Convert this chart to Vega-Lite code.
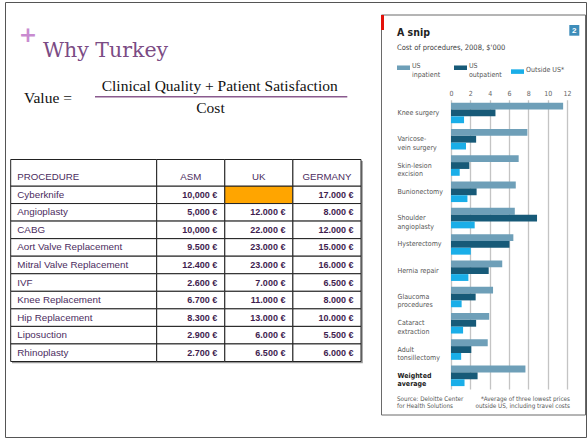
{
  "$schema": "https://vega.github.io/schema/vega-lite/v6.json",
  "width": 581,
  "height": 435,
  "padding": {"left": 5, "top": 2, "right": 2, "bottom": 3},
  "autosize": {"type": "none"},
  "background": "#ffffff",
  "config": {"view": {"stroke": "#555555", "strokeWidth": 1}},
  "datasets": {
    "table": [
      {"procedure": "Cyberknife", "ASM": "10,000 €", "UK": "", "GERMANY": "17.000 €"},
      {"procedure": "Angioplasty", "ASM": "5,000 €", "UK": "12.000 €", "GERMANY": "8.000 €"},
      {"procedure": "CABG", "ASM": "10,000 €", "UK": "22.000 €", "GERMANY": "12.000 €"},
      {"procedure": "Aort Valve Replacement", "ASM": "9.500 €", "UK": "23.000 €", "GERMANY": "15.000 €"},
      {"procedure": "Mitral Valve Replacement", "ASM": "12.400 €", "UK": "23.000 €", "GERMANY": "16.000 €"},
      {"procedure": "IVF", "ASM": "2.600 €", "UK": "7.000 €", "GERMANY": "6.500 €"},
      {"procedure": "Knee Replacement", "ASM": "6.700 €", "UK": "11.000 €", "GERMANY": "8.000 €"},
      {"procedure": "Hip Replacement", "ASM": "8.300 €", "UK": "13.000 €", "GERMANY": "10.000 €"},
      {"procedure": "Liposuction", "ASM": "2.900 €", "UK": "6.000 €", "GERMANY": "5.500 €"},
      {"procedure": "Rhinoplasty", "ASM": "2.700 €", "UK": "6.500 €", "GERMANY": "6.000 €"}
    ],
    "snip": [
      {"procedure": "Knee surgery", "type": "US inpatient", "cost": 11.6},
      {"procedure": "Knee surgery", "type": "US outpatient", "cost": 4.6},
      {"procedure": "Knee surgery", "type": "Outside US*", "cost": 1.35},
      {"procedure": "Varicose-|vein surgery", "type": "US inpatient", "cost": 7.9},
      {"procedure": "Varicose-|vein surgery", "type": "US outpatient", "cost": 2.6},
      {"procedure": "Varicose-|vein surgery", "type": "Outside US*", "cost": 1.55},
      {"procedure": "Skin-lesion|excision", "type": "US inpatient", "cost": 7.0},
      {"procedure": "Skin-lesion|excision", "type": "US outpatient", "cost": 1.9},
      {"procedure": "Skin-lesion|excision", "type": "Outside US*", "cost": 0.9},
      {"procedure": "Bunionectomy", "type": "US inpatient", "cost": 6.7},
      {"procedure": "Bunionectomy", "type": "US outpatient", "cost": 2.65},
      {"procedure": "Bunionectomy", "type": "Outside US*", "cost": 1.7},
      {"procedure": "Shoulder|angioplasty", "type": "US inpatient", "cost": 6.6},
      {"procedure": "Shoulder|angioplasty", "type": "US outpatient", "cost": 8.9},
      {"procedure": "Shoulder|angioplasty", "type": "Outside US*", "cost": 2.45},
      {"procedure": "Hysterectomy", "type": "US inpatient", "cost": 6.45},
      {"procedure": "Hysterectomy", "type": "US outpatient", "cost": 6.05},
      {"procedure": "Hysterectomy", "type": "Outside US*", "cost": 2.05},
      {"procedure": "Hernia repair", "type": "US inpatient", "cost": 5.3},
      {"procedure": "Hernia repair", "type": "US outpatient", "cost": 3.9},
      {"procedure": "Hernia repair", "type": "Outside US*", "cost": 1.8},
      {"procedure": "Glaucoma|procedures", "type": "US inpatient", "cost": 4.35},
      {"procedure": "Glaucoma|procedures", "type": "US outpatient", "cost": 2.55},
      {"procedure": "Glaucoma|procedures", "type": "Outside US*", "cost": 1.1},
      {"procedure": "Cataract|extraction", "type": "US inpatient", "cost": 3.95},
      {"procedure": "Cataract|extraction", "type": "US outpatient", "cost": 2.6},
      {"procedure": "Cataract|extraction", "type": "Outside US*", "cost": 1.25},
      {"procedure": "Adult|tonsillectomy", "type": "US inpatient", "cost": 3.8},
      {"procedure": "Adult|tonsillectomy", "type": "US outpatient", "cost": 2.1},
      {"procedure": "Adult|tonsillectomy", "type": "Outside US*", "cost": 1.05},
      {"procedure": "Weighted|average", "type": "US inpatient", "cost": 7.7},
      {"procedure": "Weighted|average", "type": "US outpatient", "cost": 2.75},
      {"procedure": "Weighted|average", "type": "Outside US*", "cost": 1.4}
    ]
  },
  "resolve": {"scale": {"x": "independent", "y": "independent", "color": "independent", "yOffset": "independent"}},
  "layer": [
    {
      "data": {"values": [{"part": "table shadow"}]},
      "mark": {"type": "rect", "color": "#9a9a9a"},
      "encoding": {
        "x": {"datum": 12, "type": "quantitative", "scale": {"domain": [0, 588], "range": [-5, 583], "nice": false, "zero": false}, "axis": null},
        "x2": {"datum": 362.8},
        "y": {"datum": 161, "type": "quantitative", "scale": {"domain": [0, 440], "range": [-2, 438], "nice": false, "zero": false}, "axis": null},
        "y2": {"datum": 363.3}
      }
    },
    {
      "data": {"name": "table"},
      "mark": {"type": "rect", "fill": "#ffffff", "stroke": "#222222", "strokeWidth": 1},
      "encoding": {
        "x": {"datum": "PROCEDURE", "type": "nominal", "scale": {"type": "band", "domain": ["PROCEDURE"], "range": [5.7, 151.7], "paddingInner": 0, "paddingOuter": 0}, "axis": null},
        "y": {"field": "procedure", "type": "nominal", "scale": {"type": "band", "domain": ["Cyberknife", "Angioplasty", "CABG", "Aort Valve Replacement", "Mitral Valve Replacement", "IVF", "Knee Replacement", "Hip Replacement", "Liposuction", "Rhinoplasty"], "range": [184, 359.5], "paddingInner": 0, "paddingOuter": 0}, "axis": null}
      }
    },
    {
      "data": {"name": "table"},
      "mark": {"type": "text", "align": "left", "baseline": "middle", "dx": 6.6, "font": "Liberation Sans, Arial, sans-serif", "fontSize": 9.8, "color": "#4b2c5e"},
      "encoding": {
        "x": {"datum": "PROCEDURE", "type": "nominal", "bandPosition": 0, "scale": {"type": "band", "domain": ["PROCEDURE"], "range": [5.7, 151.7], "paddingInner": 0, "paddingOuter": 0}, "axis": null},
        "y": {"field": "procedure", "type": "nominal", "scale": {"type": "band", "domain": ["Cyberknife", "Angioplasty", "CABG", "Aort Valve Replacement", "Mitral Valve Replacement", "IVF", "Knee Replacement", "Hip Replacement", "Liposuction", "Rhinoplasty"], "range": [184, 359.5], "paddingInner": 0, "paddingOuter": 0}, "axis": null},
        "text": {"field": "procedure"}
      }
    },
    {
      "data": {"name": "table"},
      "transform": [{"fold": ["ASM", "UK", "GERMANY"], "as": ["column", "value"]}],
      "mark": {"type": "rect", "stroke": "#222222", "strokeWidth": 1},
      "encoding": {
        "x": {"field": "column", "type": "nominal", "scale": {"type": "band", "domain": ["ASM", "UK", "GERMANY"], "range": [151.7, 356], "paddingInner": 0, "paddingOuter": 0}, "axis": null},
        "y": {"field": "procedure", "type": "nominal", "scale": {"type": "band", "domain": ["Cyberknife", "Angioplasty", "CABG", "Aort Valve Replacement", "Mitral Valve Replacement", "IVF", "Knee Replacement", "Hip Replacement", "Liposuction", "Rhinoplasty"], "range": [184, 359.5], "paddingInner": 0, "paddingOuter": 0}, "axis": null},
        "fill": {"condition": {"test": "datum.value === ''", "value": "#ffa500"}, "value": "#ffffff"}
      }
    },
    {
      "data": {"name": "table"},
      "transform": [{"fold": ["ASM", "UK", "GERMANY"], "as": ["column", "value"]}],
      "mark": {"type": "text", "align": "right", "baseline": "middle", "dx": -7.5, "font": "Liberation Sans, Arial, sans-serif", "fontSize": 9, "fontWeight": "bold", "color": "#3f1d4f"},
      "encoding": {
        "x": {"field": "column", "type": "nominal", "bandPosition": 1, "scale": {"type": "band", "domain": ["ASM", "UK", "GERMANY"], "range": [151.7, 356], "paddingInner": 0, "paddingOuter": 0}, "axis": null},
        "y": {"field": "procedure", "type": "nominal", "scale": {"type": "band", "domain": ["Cyberknife", "Angioplasty", "CABG", "Aort Valve Replacement", "Mitral Valve Replacement", "IVF", "Knee Replacement", "Hip Replacement", "Liposuction", "Rhinoplasty"], "range": [184, 359.5], "paddingInner": 0, "paddingOuter": 0}, "axis": null},
        "text": {"field": "value"}
      }
    },
    {
      "data": {"values": [{"column": "PROCEDURE"}]},
      "mark": {"type": "rect", "fill": "#ffffff", "stroke": "#222222", "strokeWidth": 1},
      "encoding": {
        "x": {"field": "column", "type": "nominal", "scale": {"type": "band", "domain": ["PROCEDURE"], "range": [5.7, 151.7], "paddingInner": 0, "paddingOuter": 0}, "axis": null},
        "y": {"datum": "header", "type": "nominal", "scale": {"type": "band", "domain": ["header"], "range": [157.5, 184], "paddingInner": 0, "paddingOuter": 0}, "axis": null}
      }
    },
    {
      "data": {"values": [{"column": "PROCEDURE"}]},
      "mark": {"type": "text", "align": "left", "baseline": "middle", "dx": 6.6, "dy": 3.8, "font": "Liberation Sans, Arial, sans-serif", "fontSize": 9.7, "color": "#4b2c5e"},
      "encoding": {
        "x": {"field": "column", "type": "nominal", "bandPosition": 0, "scale": {"type": "band", "domain": ["PROCEDURE"], "range": [5.7, 151.7], "paddingInner": 0, "paddingOuter": 0}, "axis": null},
        "y": {"datum": "header", "type": "nominal", "scale": {"type": "band", "domain": ["header"], "range": [157.5, 184], "paddingInner": 0, "paddingOuter": 0}, "axis": null},
        "text": {"field": "column"}
      }
    },
    {
      "data": {"values": [{"column": "ASM"}, {"column": "UK"}, {"column": "GERMANY"}]},
      "mark": {"type": "rect", "fill": "#ffffff", "stroke": "#222222", "strokeWidth": 1},
      "encoding": {
        "x": {"field": "column", "type": "nominal", "scale": {"type": "band", "domain": ["ASM", "UK", "GERMANY"], "range": [151.7, 356], "paddingInner": 0, "paddingOuter": 0}, "axis": null},
        "y": {"datum": "header", "type": "nominal", "scale": {"type": "band", "domain": ["header"], "range": [157.5, 184], "paddingInner": 0, "paddingOuter": 0}, "axis": null}
      }
    },
    {
      "data": {"values": [{"column": "ASM"}, {"column": "UK"}, {"column": "GERMANY"}]},
      "mark": {"type": "text", "align": "center", "baseline": "middle", "dy": 3.8, "font": "Liberation Sans, Arial, sans-serif", "fontSize": 9.7, "color": "#4b2c5e"},
      "encoding": {
        "x": {"field": "column", "type": "nominal", "scale": {"type": "band", "domain": ["ASM", "UK", "GERMANY"], "range": [151.7, 356], "paddingInner": 0, "paddingOuter": 0}, "axis": null},
        "y": {"datum": "header", "type": "nominal", "scale": {"type": "band", "domain": ["header"], "range": [157.5, 184], "paddingInner": 0, "paddingOuter": 0}, "axis": null},
        "text": {"field": "column"}
      }
    },
    {
      "data": {"values": [{"t": "+"}]},
      "mark": {"type": "text", "align": "center", "baseline": "alphabetic", "font": "DejaVu Sans", "fontWeight": "bold", "fontSize": 22, "color": "#c98bd0"},
      "encoding": {
        "x": {"datum": 28, "type": "quantitative", "scale": {"domain": [0, 588], "range": [-5, 583], "nice": false, "zero": false}, "axis": null},
        "y": {"datum": 42, "type": "quantitative", "scale": {"domain": [0, 440], "range": [-2, 438], "nice": false, "zero": false}, "axis": null},
        "text": {"field": "t"}
      }
    },
    {
      "data": {"values": [{"t": "Why Turkey"}]},
      "mark": {"type": "text", "align": "left", "baseline": "alphabetic", "font": "DejaVu Serif", "fontSize": 20.5, "color": "#7b4b84"},
      "encoding": {
        "x": {"datum": 43, "type": "quantitative", "scale": {"domain": [0, 588], "range": [-5, 583], "nice": false, "zero": false}, "axis": null},
        "y": {"datum": 56.7, "type": "quantitative", "scale": {"domain": [0, 440], "range": [-2, 438], "nice": false, "zero": false}, "axis": null},
        "text": {"field": "t"}
      }
    },
    {
      "data": {"values": [{"t": "Value ="}]},
      "mark": {"type": "text", "align": "left", "baseline": "alphabetic", "font": "Liberation Serif, Times New Roman, serif", "fontSize": 15.5, "color": "#111111"},
      "encoding": {
        "x": {"datum": 24, "type": "quantitative", "scale": {"domain": [0, 588], "range": [-5, 583], "nice": false, "zero": false}, "axis": null},
        "y": {"datum": 102.7, "type": "quantitative", "scale": {"domain": [0, 440], "range": [-2, 438], "nice": false, "zero": false}, "axis": null},
        "text": {"field": "t"}
      }
    },
    {
      "data": {"values": [{"t": "Clinical Quality + Patient Satisfaction"}]},
      "mark": {"type": "text", "align": "center", "baseline": "alphabetic", "font": "Liberation Serif, Times New Roman, serif", "fontSize": 15.5, "color": "#111111"},
      "encoding": {
        "x": {"datum": 219.7, "type": "quantitative", "scale": {"domain": [0, 588], "range": [-5, 583], "nice": false, "zero": false}, "axis": null},
        "y": {"datum": 90.7, "type": "quantitative", "scale": {"domain": [0, 440], "range": [-2, 438], "nice": false, "zero": false}, "axis": null},
        "text": {"field": "t"}
      }
    },
    {
      "data": {"values": [{"part": "fraction bar"}]},
      "mark": {"type": "rule", "color": "#8a5a8e", "strokeWidth": 1.6},
      "encoding": {
        "x": {"datum": 95, "type": "quantitative", "scale": {"domain": [0, 588], "range": [-5, 583], "nice": false, "zero": false}, "axis": null},
        "x2": {"datum": 347.3},
        "y": {"datum": 96.7, "type": "quantitative", "scale": {"domain": [0, 440], "range": [-2, 438], "nice": false, "zero": false}, "axis": null}
      }
    },
    {
      "data": {"values": [{"t": "Cost"}]},
      "mark": {"type": "text", "align": "center", "baseline": "alphabetic", "font": "Liberation Serif, Times New Roman, serif", "fontSize": 15.5, "color": "#111111"},
      "encoding": {
        "x": {"datum": 210.5, "type": "quantitative", "scale": {"domain": [0, 588], "range": [-5, 583], "nice": false, "zero": false}, "axis": null},
        "y": {"datum": 112.7, "type": "quantitative", "scale": {"domain": [0, 440], "range": [-2, 438], "nice": false, "zero": false}, "axis": null},
        "text": {"field": "t"}
      }
    },
    {
      "data": {"values": [{"part": "inset frame"}]},
      "mark": {"type": "rect", "filled": false, "color": "#6a6a6a", "strokeWidth": 1},
      "encoding": {
        "x": {"datum": 381.5, "type": "quantitative", "scale": {"domain": [0, 588], "range": [-5, 583], "nice": false, "zero": false}, "axis": null},
        "x2": {"datum": 585.5},
        "y": {"datum": 15, "type": "quantitative", "scale": {"domain": [0, 440], "range": [-2, 438], "nice": false, "zero": false}, "axis": null},
        "y2": {"datum": 415}
      }
    },
    {
      "data": {"values": [{"part": "red tab"}]},
      "mark": {"type": "rect", "color": "#e3120b"},
      "encoding": {
        "x": {"datum": 381, "type": "quantitative", "scale": {"domain": [0, 588], "range": [-5, 583], "nice": false, "zero": false}, "axis": null},
        "x2": {"datum": 384},
        "y": {"datum": 15, "type": "quantitative", "scale": {"domain": [0, 440], "range": [-2, 438], "nice": false, "zero": false}, "axis": null},
        "y2": {"datum": 30}
      }
    },
    {
      "data": {"values": [{"part": "chart number box"}]},
      "mark": {"type": "rect", "color": "#3e8dba"},
      "encoding": {
        "x": {"datum": 569.3, "type": "quantitative", "scale": {"domain": [0, 588], "range": [-5, 583], "nice": false, "zero": false}, "axis": null},
        "x2": {"datum": 579.3},
        "y": {"datum": 25, "type": "quantitative", "scale": {"domain": [0, 440], "range": [-2, 438], "nice": false, "zero": false}, "axis": null},
        "y2": {"datum": 35.7}
      }
    },
    {
      "data": {"values": [{"t": "2"}]},
      "mark": {"type": "text", "align": "center", "baseline": "alphabetic", "font": "Liberation Sans, Arial, sans-serif", "fontWeight": "bold", "fontSize": 8, "color": "#ffffff"},
      "encoding": {
        "x": {"datum": 574.3, "type": "quantitative", "scale": {"domain": [0, 588], "range": [-5, 583], "nice": false, "zero": false}, "axis": null},
        "y": {"datum": 33.3, "type": "quantitative", "scale": {"domain": [0, 440], "range": [-2, 438], "nice": false, "zero": false}, "axis": null},
        "text": {"field": "t"}
      }
    },
    {
      "data": {"values": [{"t": "A snip"}]},
      "mark": {"type": "text", "align": "left", "baseline": "alphabetic", "font": "DejaVu Sans Condensed, Liberation Sans Narrow, DejaVu Sans, sans-serif", "fontWeight": "bold", "fontSize": 10.5, "color": "#222222"},
      "encoding": {
        "x": {"datum": 397, "type": "quantitative", "scale": {"domain": [0, 588], "range": [-5, 583], "nice": false, "zero": false}, "axis": null},
        "y": {"datum": 35.5, "type": "quantitative", "scale": {"domain": [0, 440], "range": [-2, 438], "nice": false, "zero": false}, "axis": null},
        "text": {"field": "t"}
      }
    },
    {
      "data": {"values": [{"t": "Cost of procedures, 2008, $'000"}]},
      "mark": {"type": "text", "align": "left", "baseline": "alphabetic", "font": "DejaVu Sans Condensed, Liberation Sans Narrow, DejaVu Sans, sans-serif", "fontSize": 7.5, "color": "#444444"},
      "encoding": {
        "x": {"datum": 397, "type": "quantitative", "scale": {"domain": [0, 588], "range": [-5, 583], "nice": false, "zero": false}, "axis": null},
        "y": {"datum": 50, "type": "quantitative", "scale": {"domain": [0, 440], "range": [-2, 438], "nice": false, "zero": false}, "axis": null},
        "text": {"field": "t"}
      }
    },
    {
      "data": {"name": "snip"},
      "mark": {"type": "bar"},
      "encoding": {
        "y": {
          "field": "procedure", "type": "nominal", "sort": null,
          "scale": {"type": "band", "domain": ["Knee surgery", "Varicose-|vein surgery", "Skin-lesion|excision", "Bunionectomy", "Shoulder|angioplasty", "Hysterectomy", "Hernia repair", "Glaucoma|procedures", "Cataract|extraction", "Adult|tonsillectomy", "Weighted|average"], "range": [97.8, 387], "paddingInner": 0.22, "paddingOuter": 0.11},
          "axis": {
            "orient": "left", "offset": -392, "ticks": false, "domain": false, "grid": false, "title": null,
            "labelAlign": "left", "labelBaseline": "middle", "labelPadding": 0, "labelLimit": 0, "labelOverlap": false,
            "labelExpr": "split(datum.label, '|')", "labelLineHeight": 8.5,
            "labelFont": "DejaVu Sans Condensed, Liberation Sans Narrow, DejaVu Sans, sans-serif", "labelFontSize": 7,
            "labelColor": {"condition": {"test": "datum.value === 'Weighted|average'", "value": "#222222"}, "value": "#555555"},
            "labelFontWeight": {"condition": {"test": "datum.value === 'Weighted|average'", "value": "bold"}, "value": "normal"}
          }
        },
        "yOffset": {"field": "type", "type": "nominal", "sort": ["US inpatient", "US outpatient", "Outside US*"], "scale": {"paddingInner": 0, "paddingOuter": 0}},
        "x": {
          "field": "cost", "type": "quantitative",
          "scale": {"domain": [0, 12], "range": [446, 562], "nice": false, "zero": true},
          "axis": {
            "orient": "top", "offset": -96, "values": [0, 2, 4, 6, 8, 10, 12], "ticks": false, "domain": false, "grid": true,
            "gridColor": "#c4c4c4", "gridWidth": 1.3, "title": null, "labelPadding": 2, "labelFlush": false, "labelOverlap": false,
            "labelFont": "DejaVu Sans Condensed, Liberation Sans Narrow, DejaVu Sans, sans-serif", "labelFontSize": 7, "labelColor": "#666666"
          }
        },
        "color": {
          "field": "type", "type": "nominal",
          "scale": {"domain": ["US inpatient", "US outpatient", "Outside US*"], "range": ["#6e9fb8", "#175a78", "#1aaee8"]},
          "legend": {
            "title": null, "orient": "none", "legendX": 392, "legendY": 59, "direction": "horizontal", "columns": 3,
            "gridAlign": "all", "columnPadding": 3, "padding": 0,
            "symbolType": "M-1,-0.35H1V0.35H-1Z", "symbolSize": 169, "symbolStrokeWidth": 0, "symbolOpacity": 1,
            "labelFont": "DejaVu Sans Condensed, Liberation Sans Narrow, DejaVu Sans, sans-serif", "labelFontSize": 7,
            "labelColor": "#555555", "labelOffset": 2, "labelBaseline": "alphabetic",
            "labelExpr": "datum.label === 'Outside US*' ? datum.label : split(datum.label, ' ')"
          }
        }
      }
    },
    {
      "data": {"values": [{"t": "Source: Deloitte Center|for Health Solutions"}]},
      "mark": {"type": "text", "align": "left", "baseline": "alphabetic", "lineBreak": "|", "lineHeight": 7, "font": "DejaVu Sans Condensed, Liberation Sans Narrow, DejaVu Sans, sans-serif", "fontSize": 6.3, "color": "#555555"},
      "encoding": {
        "x": {"datum": 397, "type": "quantitative", "scale": {"domain": [0, 588], "range": [-5, 583], "nice": false, "zero": false}, "axis": null},
        "y": {"datum": 401, "type": "quantitative", "scale": {"domain": [0, 440], "range": [-2, 438], "nice": false, "zero": false}, "axis": null},
        "text": {"field": "t"}
      }
    },
    {
      "data": {"values": [{"t": "*Average of three lowest prices|outside US, including travel costs"}]},
      "mark": {"type": "text", "align": "right", "baseline": "alphabetic", "lineBreak": "|", "lineHeight": 7, "font": "DejaVu Sans Condensed, Liberation Sans Narrow, DejaVu Sans, sans-serif", "fontSize": 6.3, "color": "#555555"},
      "encoding": {
        "x": {"datum": 570, "type": "quantitative", "scale": {"domain": [0, 588], "range": [-5, 583], "nice": false, "zero": false}, "axis": null},
        "y": {"datum": 401, "type": "quantitative", "scale": {"domain": [0, 440], "range": [-2, 438], "nice": false, "zero": false}, "axis": null},
        "text": {"field": "t"}
      }
    }
  ]
}
